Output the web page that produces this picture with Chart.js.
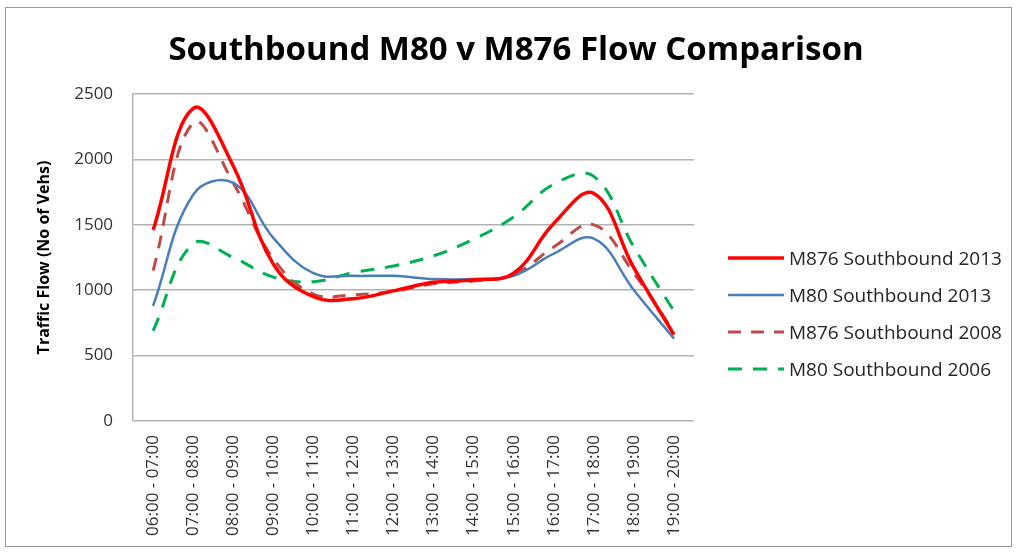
<!DOCTYPE html>
<html lang="en">
<head>
    <title>Southbound M80 v M876 Flow Comparison</title>
    <script src="https://cdn.jsdelivr.net/npm/chart.js"></script>
    <style>
        body {
            margin: 0;
            background: #ffffff;
            font-family: 'Open Sans', sans-serif;
        }
        .chart-box {
            position: absolute;
            left: 5px;
            top: 7px;
            width: 1005px;
            height: 538px;
            border: 1px solid #9a9a9a;
            background: #ffffff;
        }
        #flowChart {
            position: absolute;
            left: 0;
            top: 0;
        }
        .chart-title {
            position: absolute;
            left: 0;
            width: 1020px;
            top: 18px;
            text-align: center;
            font-size: 33px;
            font-weight: bold;
            color: #000000;
            line-height: 44px;
        }
        .legend {
            position: absolute;
            left: 722px;
            top: 231px;
        }
        .legend-item {
            display: flex;
            align-items: center;
            height: 37px;
            font-size: 19px;
            color: #262626;
        }
        .legend-item svg {
            margin-right: 5px;
        }
    </style>
</head>
<body>
    <div class="chart-box">
        <canvas id="flowChart" width="1005" height="538"></canvas>
        <div class="chart-title">Southbound M80 v M876 Flow Comparison</div>
        <div class="legend" id="legend"></div>
    </div>

    <script>
        const hours = ['06:00 - 07:00', '07:00 - 08:00', '08:00 - 09:00', '09:00 - 10:00', '10:00 - 11:00',
            '11:00 - 12:00', '12:00 - 13:00', '13:00 - 14:00', '14:00 - 15:00', '15:00 - 16:00',
            '16:00 - 17:00', '17:00 - 18:00', '18:00 - 19:00', '19:00 - 20:00'];
        const m876_2013 = [1460, 2390, 1950, 1200, 950, 935, 995, 1060, 1080, 1130, 1510, 1740, 1170, 660];
        const m80_2013 = [880, 1730, 1820, 1400, 1130, 1110, 1110, 1085, 1085, 1110, 1280, 1395, 1000, 630];
        const m876_2008 = [1150, 2280, 1820, 1240, 970, 965, 990, 1050, 1070, 1120, 1330, 1500, 1130, 680];
        const m80_2006 = [690, 1355, 1250, 1100, 1065, 1135, 1185, 1263, 1390, 1560, 1810, 1870, 1330, 840];
        const yTicks = [0, 500, 1000, 1500, 2000, 2500];

        const ctx = document.getElementById('flowChart').getContext('2d');
        const chart = new Chart(ctx, {
            type: 'line',
            data: {
                labels: hours,
                datasets: [
                    {
                        label: 'M876 Southbound 2013',
                        data: m876_2013,
                        borderColor: '#ff0000',
                        borderWidth: 3.5,
                        borderDash: []
                    },
                    {
                        label: 'M80 Southbound 2013',
                        data: m80_2013,
                        borderColor: '#4a7ebb',
                        borderWidth: 2.5,
                        borderDash: []
                    },
                    {
                        label: 'M876 Southbound 2008',
                        data: m876_2008,
                        borderColor: '#be4b48',
                        borderWidth: 3,
                        borderDash: [13, 10]
                    },
                    {
                        label: 'M80 Southbound 2006',
                        data: m80_2006,
                        borderColor: '#00b050',
                        borderWidth: 3,
                        borderDash: [14, 11]
                    }
                ]
            },
            options: {
                responsive: false,
                animation: false,
                layout: { padding: { left: 29, right: 317, top: 86, bottom: 4 } },
                elements: {
                    line: { tension: 0.4, fill: false },
                    point: { radius: 0 }
                },
                plugins: {
                    legend: { display: false },
                    tooltip: { enabled: false }
                },
                scales: {
                    x: {
                        offset: true,
                        grid: { display: false },
                        border: { display: false },
                        ticks: {
                            color: '#333333',
                            minRotation: 90,
                            maxRotation: 90,
                            padding: 6,
                            font: { family: 'Open Sans', size: 17 }
                        }
                    },
                    y: {
                        min: 0,
                        max: 2500,
                        afterBuildTicks: (axis) => { axis.ticks = yTicks.map(v => ({ value: v })); },
                        grid: { color: '#b3b3b3', lineWidth: 1.5, drawTicks: false },
                        border: { display: true, color: '#b3b3b3', width: 1.5 },
                        ticks: {
                            color: '#333333',
                            padding: 20,
                            font: { family: 'Open Sans', size: 17 },
                            callback: (v) => String(v)
                        },
                        title: {
                            display: true,
                            text: 'Traffic Flow (No of Vehs)',
                            color: '#000000',
                            font: { family: 'Open Sans', size: 16, weight: 'bold' },
                            padding: { top: 0, bottom: 0 }
                        }
                    }
                }
            }
        });

        // legend on the right, built from the datasets
        const legendBox = document.getElementById('legend');
        chart.data.datasets.forEach((ds) => {
            const item = document.createElement('div');
            item.className = 'legend-item';
            const dash = ds.borderDash.length ? `stroke-dasharray="${ds.borderDash.join(' ')}"` : '';
            item.innerHTML = `
                <svg width="56" height="6"><line x1="0" y1="3" x2="56" y2="3" stroke="${ds.borderColor}" stroke-width="${ds.borderWidth}" ${dash}/></svg>
                <span>${ds.label}</span>
            `;
            legendBox.appendChild(item);
        });
    </script>
</body>
</html>
